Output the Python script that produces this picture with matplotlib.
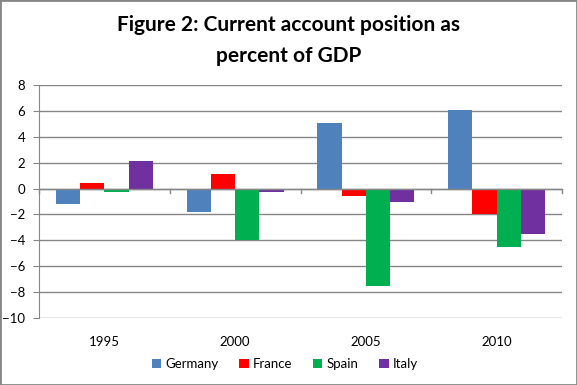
import matplotlib.pyplot as plt
import numpy as np
from matplotlib.patches import Rectangle

years = ['1995', '2000', '2005', '2010']
countries = ['Germany', 'France', 'Spain', 'Italy']
germany = [-1.2, -1.8, 5.1, 6.1]
france = [0.4, 1.1, -0.6, -2.0]
spain = [-0.3, -4.0, -7.5, -4.5]
italy = [2.1, -0.3, -1.0, -3.5]
colors = ['#4F81BD', '#FF0000', '#00B050', '#7030A0']

plt.rcParams['font.family'] = ['Lato', 'DejaVu Sans']

fig = plt.figure(figsize=(5.77, 3.85), dpi=100)
ax = fig.add_axes([39 / 577, 1 - 318 / 385, (562 - 39) / 577, (318 - 85) / 385])

x = np.arange(len(years))
w = 0.185
series = [germany, france, spain, italy]
for i, vals in enumerate(series):
    ax.bar(x + (i - 1.5) * w, vals, w, color=colors[i], label=countries[i], zorder=3)

ax.set_xlim(-0.5, 3.5)
ax.set_ylim(-10, 8)
ax.set_yticks(range(-10, 9, 2))
ax.grid(axis='y', color='#868686', linewidth=1, zorder=0)
ax.axhline(0, color='#868686', linewidth=1, zorder=4)
for s in ['top', 'right', 'bottom']:
    ax.spines[s].set_visible(False)
ax.spines['left'].set_color('#868686')
ax.tick_params(axis='y', length=4, color='#868686', labelsize=9.5, pad=6)
ax.tick_params(axis='x', length=0, labelsize=9.5, pad=13)
ax.set_xticks(x)
ax.set_xticklabels(years)

# category separators on the zero axis
for xb in np.arange(-0.5, 4, 1):
    ax.plot([xb, xb], [0, -0.35], color='#868686', linewidth=1, zorder=4, clip_on=False)

fig.text(0.5, 0.935, 'Figure 2: Current account position as', ha='center', va='center',
         fontsize=15, fontweight='bold')
fig.text(0.5, 0.855, 'percent of GDP', ha='center', va='center',
         fontsize=15, fontweight='bold')

ax.legend(loc='upper center', bbox_to_anchor=(0.47, -0.12), ncol=4, frameon=False,
          fontsize=9.5, handlelength=0.7, handleheight=0.7, handletextpad=0.3,
          columnspacing=1.6)

fig.patches.append(Rectangle((0, 0), 1, 1, transform=fig.transFigure, fill=False,
                             edgecolor='#868686', linewidth=2))

fig.savefig('out.png', dpi=100)
